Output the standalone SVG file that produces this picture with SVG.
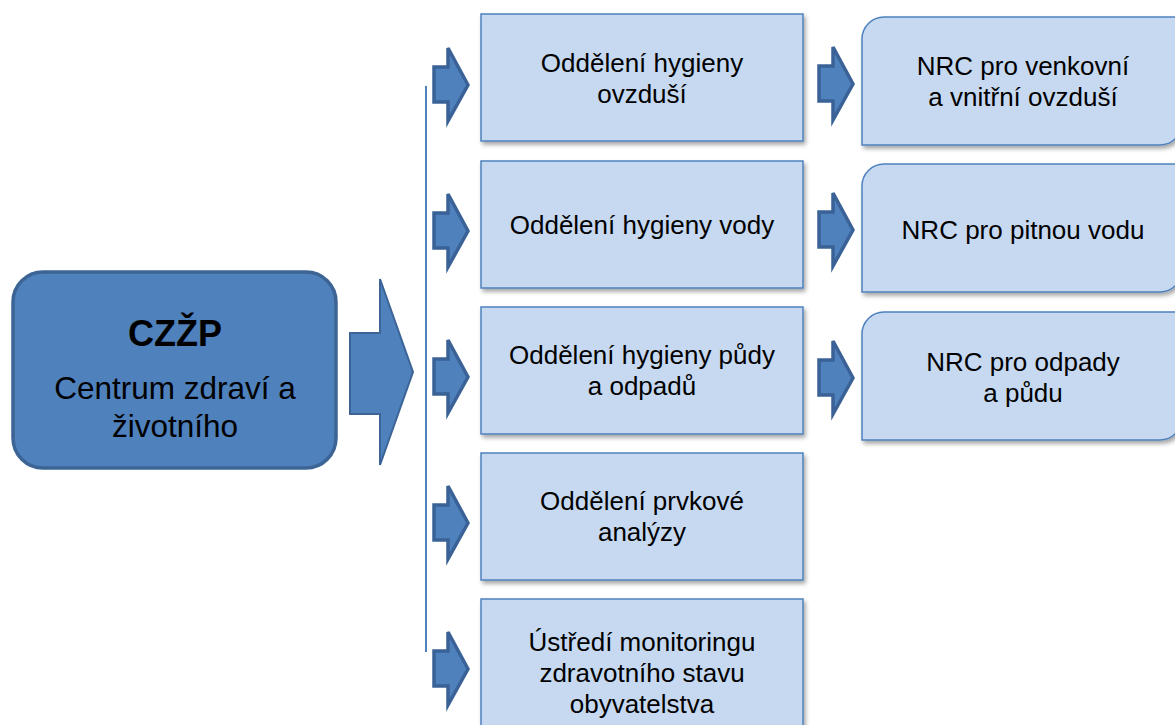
<svg xmlns="http://www.w3.org/2000/svg" width="1175" height="725" viewBox="0 0 1175 725">
  <defs>
    <filter id="sh" x="-10%" y="-10%" width="125%" height="130%">
      <feDropShadow dx="2" dy="3" stdDeviation="2" flood-color="#000" flood-opacity="0.35"/>
    </filter>
    <polygon id="arr" points="0,-18 14,-18 14,-37 34,0 14,36 14,17 0,17" fill="#4f81bd" stroke="#3a6296" stroke-width="3.5" stroke-linejoin="miter"/>
  </defs>
  <style>
    .mid { fill: #c6d9f1; stroke: #4f81bd; stroke-width: 1.5; filter: url(#sh); }
    .nrc { fill: #c6d9f1; stroke: #4f81bd; stroke-width: 1.5; filter: url(#sh); }
    .t { font-family: "Liberation Sans", Arial, sans-serif; font-size: 26px; fill: #000; text-anchor: middle; }
  </style>
  <rect width="1175" height="725" fill="#fff"/>

  <g id="connectors">
    <line x1="426" y1="86" x2="426" y2="652" stroke="#4f81bd" stroke-width="2"/>
    <polygon points="350,333 380,333 380,279 413,372 380,465 380,414 350,414" fill="#4f81bd" stroke="#3c6496" stroke-width="2"/>
    <use href="#arr" x="434" y="85"/>
    <use href="#arr" x="434" y="231"/>
    <use href="#arr" x="434" y="377"/>
    <use href="#arr" x="434" y="523"/>
    <use href="#arr" x="434" y="669"/>
    <use href="#arr" x="819" y="84"/>
    <use href="#arr" x="819" y="230"/>
    <use href="#arr" x="819" y="378"/>
  </g>

  <g id="czzp">
    <rect x="13" y="272" width="323" height="196" rx="30" ry="30" fill="#4f81bd" stroke="#3c6494" stroke-width="3.5"/>
    <text x="175" y="346" class="t" style="font-size:36px;font-weight:bold">CZŽP</text>
    <text x="175" y="399" class="t" style="font-size:31.5px">Centrum zdraví a</text>
    <text x="175" y="437" class="t" style="font-size:31.5px">životního</text>
  </g>

  <g id="ovzdusi">
    <rect class="mid" x="481" y="14" width="322" height="127"/>
    <text class="t" x="642" y="72">Oddělení hygieny</text>
    <text class="t" x="642" y="103">ovzduší</text>
  </g>
  <g id="vody">
    <rect class="mid" x="481" y="161" width="322" height="127"/>
    <text class="t" x="642" y="234">Oddělení hygieny vody</text>
  </g>
  <g id="pudy">
    <rect class="mid" x="481" y="307" width="322" height="127"/>
    <text class="t" x="642" y="364">Oddělení hygieny půdy</text>
    <text class="t" x="642" y="395">a odpadů</text>
  </g>
  <g id="prvkove">
    <rect class="mid" x="481" y="453" width="322" height="127"/>
    <text class="t" x="642" y="510">Oddělení prvkové</text>
    <text class="t" x="642" y="541">analýzy</text>
  </g>
  <g id="monitoring">
    <rect class="mid" x="481" y="599" width="322" height="140"/>
    <text class="t" x="642" y="651">Ústředí monitoringu</text>
    <text class="t" x="642" y="682">zdravotního stavu</text>
    <text class="t" x="642" y="713">obyvatelstva</text>
  </g>

  <g id="nrc-ovzdusi">
    <path class="nrc" d="M884,17 H1182 V123 A22,22 0 0 1 1160,145 H862 V39 A22,22 0 0 1 884,17 Z"/>
    <text class="t" x="1023" y="75">NRC pro venkovní</text>
    <text class="t" x="1023" y="106">a vnitřní ovzduší</text>
  </g>
  <g id="nrc-voda">
    <path class="nrc" d="M884,164 H1182 V270 A22,22 0 0 1 1160,292 H862 V186 A22,22 0 0 1 884,164 Z"/>
    <text class="t" x="1023" y="239">NRC pro pitnou vodu</text>
  </g>
  <g id="nrc-odpady">
    <path class="nrc" d="M884,312 H1182 V418 A22,22 0 0 1 1160,440 H862 V334 A22,22 0 0 1 884,312 Z"/>
    <text class="t" x="1023" y="371">NRC pro odpady</text>
    <text class="t" x="1023" y="402">a půdu</text>
  </g>
</svg>
